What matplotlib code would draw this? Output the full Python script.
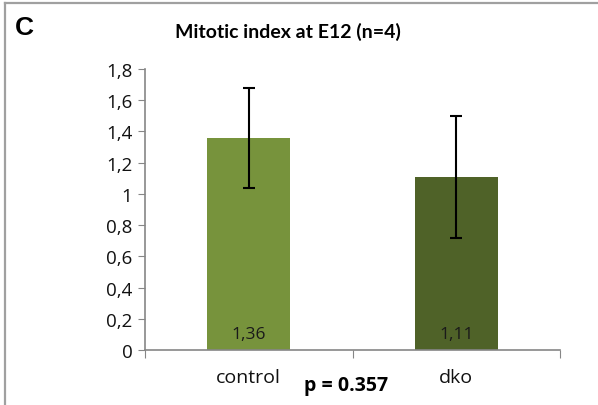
import matplotlib
matplotlib.use("Agg")
import matplotlib.pyplot as plt

# data
groups = ["control", "dko"]
means = [1.36, 1.11]
errors = [0.32, 0.39]
bar_colors = ["#77933C", "#4F6228"]
value_labels = ["1,36", "1,11"]
yticks = [0, 0.2, 0.4, 0.6, 0.8, 1, 1.2, 1.4, 1.6, 1.8]
ytick_labels = ["0", "0,2", "0,4", "0,6", "0,8", "1", "1,2", "1,4", "1,6", "1,8"]

plt.rcParams["font.family"] = ["Open Sans", "DejaVu Sans"]

fig = plt.figure(figsize=(5.98, 4.06), dpi=100)
ax = fig.add_axes([0.2425, 0.1355, 0.694, 0.692])

x = [0.5, 1.5]
ax.bar(x, means, width=0.4, color=bar_colors, zorder=2)
ax.errorbar(x, means, yerr=errors, fmt="none", ecolor="black",
            elinewidth=1.5, capsize=4, capthick=1.5, zorder=3)

for xi, lab in zip(x, value_labels):
    ax.text(xi, 0.105, lab, ha="center", va="center", fontsize=12.5, color="#1a1a1a")

ax.set_xlim(0, 2)
ax.set_ylim(0, 1.8)
ax.set_yticks(yticks)
ax.set_yticklabels(ytick_labels, fontsize=13.5)
ax.set_xticks([0, 1, 2])
ax.set_xticklabels([])
ax.tick_params(axis="y", length=5, color="#868686", pad=4, labelcolor="#111111")
ax.tick_params(axis="x", length=6, color="#868686")

for s in ["top", "right"]:
    ax.spines[s].set_visible(False)
for s in ["left", "bottom"]:
    ax.spines[s].set_color("#868686")
    ax.spines[s].set_linewidth(1.2)

for xi, g in zip(x, groups):
    ax.text(xi, -0.17, g, ha="center", va="center", fontsize=14,
            clip_on=False, color="#111111")

fig.text(0.579, 0.05, "p = 0.357", ha="center", va="center",
         fontsize=14, fontweight="bold")

fig.text(0.4816, 0.921, "Mitotic index at E12 (n=4)", ha="center", va="center",
         fontsize=14, fontweight="bold", family=["Lato", "DejaVu Sans"])
fig.text(0.025, 0.931, "C", ha="left", va="center", fontsize=19,
         fontweight="bold", family=["Liberation Sans", "DejaVu Sans"])

# frame lines on left and top
fig.add_artist(plt.Line2D([0.009, 0.009], [0, 0.99], color="#A0A0A0",
                          linewidth=1.6, transform=fig.transFigure))
fig.add_artist(plt.Line2D([0.008, 1.0], [0.99, 0.99], color="#A0A0A0",
                          linewidth=1.6, transform=fig.transFigure))

fig.savefig("out.png", dpi=100)
